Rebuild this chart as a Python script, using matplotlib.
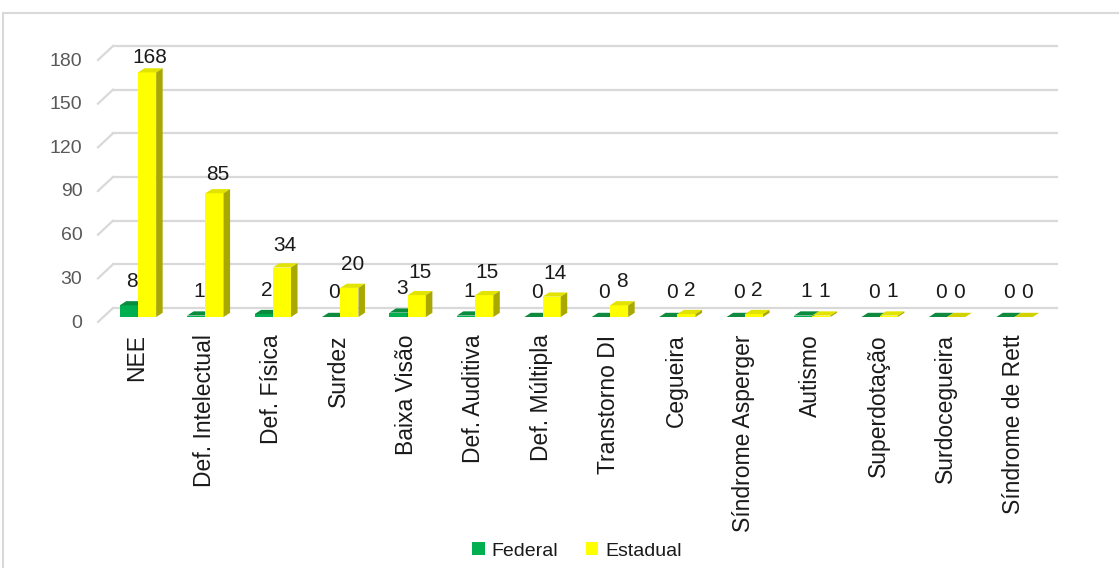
import matplotlib
matplotlib.use("Agg")
import matplotlib.pyplot as plt
from matplotlib.patches import Polygon, Patch, Rectangle
from matplotlib.transforms import ScaledTranslation
import numpy as np

plt.rcParams['font.family'] = ['Liberation Sans', 'DejaVu Sans']

categories = ["NEE", "Def. Intelectual", "Def. Física", "Surdez", "Baixa Visão",
              "Def. Auditiva", "Def. Múltipla", "Transtorno DI", "Cegueira",
              "Síndrome Asperger", "Autismo", "Superdotação", "Surdocegueira",
              "Síndrome de Rett"]
federal = [8, 1, 2, 0, 3, 1, 0, 0, 0, 0, 1, 0, 0, 0]
estadual = [168, 85, 34, 20, 15, 15, 14, 8, 2, 2, 1, 1, 0, 0]
yticks = [0, 30, 60, 90, 120, 150, 180]
series_names = ["Federal", "Estadual"]

W, H = 1119, 568
fig = plt.figure(figsize=(W / 100, H / 100), dpi=100)
fig.patch.set_facecolor('white')

# frame
fig.add_artist(Rectangle((3 / W, -0.1), 1.2, (H - 13) / H + 0.1, transform=fig.transFigure,
                         fill=False, edgecolor='#d9d9d9', lw=1.5))

ax_l, ax_r, ax_t, ax_b = 113, 1057, 46, 308
ax = fig.add_axes([ax_l / W, (H - ax_b) / H, (ax_r - ax_l) / W, (ax_b - ax_t) / H])
n = len(categories)
ax.set_xlim(0, n)
ax.set_ylim(0, 180)
for s in ax.spines.values():
    s.set_visible(False)

pxx = (ax_r - ax_l) / n
pxy = (ax_b - ax_t) / 180.0

# gridlines on back wall + slanted floor/side edges
slx = 15 / pxx
sly = 14 / pxy
for t in yticks:
    ax.plot([0, n], [t, t], color='#d9d9d9', lw=1.6, zorder=0, clip_on=False)
    ax.plot([-slx, 0], [t - sly, t], color='#d9d9d9', lw=1.6, zorder=0, clip_on=False)

base = -9 / pxy
dx = 6.5 / pxx
dy = 4.2 / pxy
bw = 0.27
x = np.arange(n)

colors = {
    "Federal": ("#00B050", "#0A8C3F", "#007A36"),
    "Estadual": ("#FFFF00", "#E3E300", "#A8A800"),
}

def draw3d(xl, vals, name, z):
    front, top, side = colors[name]
    bars = ax.bar(xl, vals, width=bw, bottom=base, align='edge', color=front,
                  edgecolor='none', zorder=z, clip_on=False)
    for b, v in zip(bars, vals):
        x0 = b.get_x()
        x1 = x0 + b.get_width()
        y1 = b.get_y() + b.get_height()
        y0 = b.get_y()
        tc = top if v > 0 else ("#0F8A3E" if name == "Federal" else "#D2D200")
        ax.add_patch(Polygon([(x0, y1), (x1, y1), (x1 + dx, y1 + dy), (x0 + dx, y1 + dy)],
                             closed=True, facecolor=tc, edgecolor='none', zorder=z, clip_on=False))
        if v > 0:
            ax.add_patch(Polygon([(x1, y0), (x1 + dx, y0 + dy), (x1 + dx, y1 + dy), (x1, y1)],
                                 closed=True, facecolor=side, edgecolor='none', zorder=z, clip_on=False))
        ly = (308 - 293 + 1.40 * v) / pxy
        ax.text(x0 + bw / 2 + dx / 2, ly, str(v), ha='center', va='center',
                fontsize=15, color='#1a1a1a', zorder=10)

for i in range(n):
    draw3d([x[i] + 0.10], [federal[i]], "Federal", 3 + 2 * i)
    draw3d([x[i] + 0.37], [estadual[i]], "Estadual", 4 + 2 * i)

# y tick labels (front plane)
ax.set_yticks(yticks)
ax.set_yticklabels([str(t) for t in yticks], fontsize=14, color='#595959')
ax.tick_params(axis='y', length=0, pad=22)
off = ScaledTranslation(0, -13 / 100, fig.dpi_scale_trans)
for lab in ax.get_yticklabels():
    lab.set_transform(lab.get_transform() + off)

# category labels
ax.set_xticks(x + 0.35)
ax.set_xticklabels(categories, rotation=90, fontsize=16.5, color='#1a1a1a')
ax.tick_params(axis='x', length=0, pad=19)

handles = [Patch(facecolor=colors[s][0], edgecolor='none', label=s) for s in series_names]
fig.legend(handles=handles, loc='center', bbox_to_anchor=(577 / W, 17 / H), ncol=2,
           frameon=False, fontsize=14, handlelength=0.65, handleheight=0.65,
           handletextpad=0.35, columnspacing=1.4, labelcolor='#1a1a1a')

fig.savefig("out.png", dpi=100, facecolor='white')
